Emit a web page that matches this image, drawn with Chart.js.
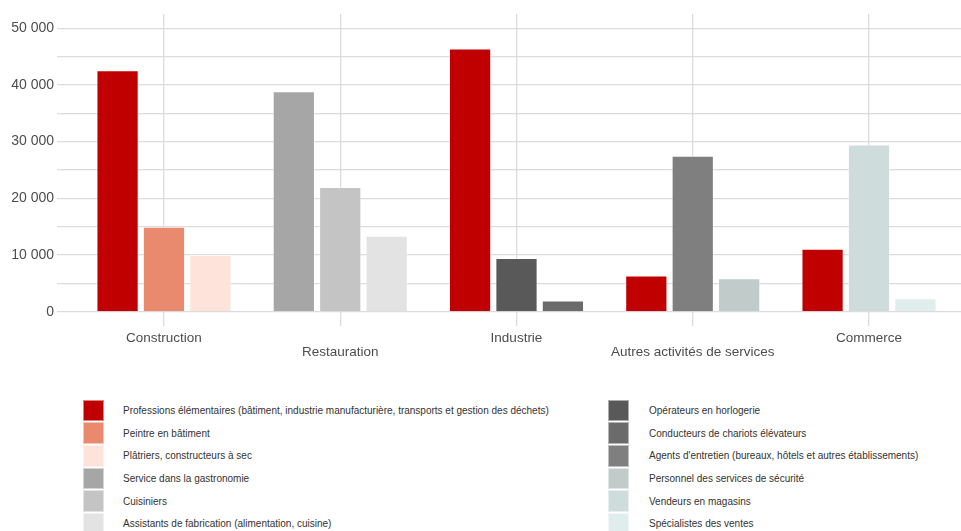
<!DOCTYPE html>
<html lang="fr">
<head>
<meta charset="utf-8">
<title>Professions par secteur</title>
<script src="https://cdn.jsdelivr.net/npm/chart.js@4/dist/chart.umd.min.js"></script>
<style>
  html, body { margin: 0; padding: 0; background: #fff; overflow: hidden; }
  body { width: 961px; height: 531px; position: relative; font-family: "Liberation Sans", Arial, sans-serif; }
  .chart-wrap { position: absolute; left: 0; top: 0; width: 961px; height: 370px; }
  .legend { position: absolute; top: 399px; left: 0; width: 961px; }
  .legend-col { position: absolute; top: 0; }
  .legend-item { display: flex; align-items: center; height: 22.7px; }
  .legend-box { width: 21px; height: 21.7px; box-sizing: border-box; border: 1px solid rgba(255,255,255,0.5); flex: none; }
  .legend-text { font-size: 10px; color: #333; white-space: nowrap; }
</style>
</head>
<body>
<div class="chart-wrap"><canvas id="chart"></canvas></div>
<div class="legend" id="legend"></div>
<script>
// Secteurs (axe x) — positions 1..5 sur une échelle linéaire
const sectors = ['Construction', 'Restauration', 'Industrie', 'Autres activités de services', 'Commerce'];
const sectorPos = [1, 2, 3, 4, 5];

// Professions (une série chacune), dans l'ordre de la légende
const professions = [
  'Professions élémentaires (bâtiment, industrie manufacturière, transports et gestion des déchets)',
  'Peintre en bâtiment',
  'Plâtriers, constructeurs à sec',
  'Service dans la gastronomie',
  'Cuisiniers',
  'Assistants de fabrication (alimentation, cuisine)',
  'Opérateurs en horlogerie',
  'Conducteurs de chariots élévateurs',
  "Agents d'entretien (bureaux, hôtels et autres établissements)",
  'Personnel des services de sécurité',
  'Vendeurs en magasins',
  'Spécialistes des ventes'
];
const colors = [
  '#c00000', '#e9896d', '#fde3da',
  '#a6a6a6', '#c4c4c4', '#e3e3e3',
  '#595959', '#6b6b6b', '#7f7f7f',
  '#c0cbca', '#cfdcdc', '#e0eded'
];

// Effectifs par secteur (null = profession absente du secteur)
const elementaires   = [42600, null, 46400, 6400, 11100];
const peintres       = [15000, null, null, null, null];
const platriers      = [10000, null, null, null, null];
const serviceGastro  = [null, 38900, null, null, null];
const cuisiniers     = [null, 22000, null, null, null];
const assistants     = [null, 13400, null, null, null];
const horlogerie     = [null, null, 9500, null, null];
const chariots       = [null, null, 2000, null, null];
const entretien      = [null, null, null, 27500, null];
const securite       = [null, null, null, 5900, null];
const vendeurs       = [null, null, null, null, 29500];
const specialistes   = [null, null, null, null, 2400];

const seriesValues = [
  elementaires, peintres, platriers,
  serviceGastro, cuisiniers, assistants,
  horlogerie, chariots, entretien,
  securite, vendeurs, specialistes
];

const yTicks = [0, 5000, 10000, 15000, 20000, 25000, 30000, 35000, 40000, 45000, 50000];

const fmt = v => String(v).replace(/\B(?=(\d{3})+(?!\d))/g, ' ');

const datasets = professions.map((name, i) => ({
  label: name,
  data: seriesValues[i],
  backgroundColor: colors[i],
  borderColor: 'rgba(255,255,255,0.45)',
  borderWidth: 1,
  categoryPercentage: 0.79,
  barPercentage: 0.91,
  skipNull: true
}));

const ctx = document.getElementById('chart').getContext('2d');
new Chart(ctx, {
  type: 'bar',
  data: { labels: sectorPos, datasets },
  options: {
    responsive: true,
    maintainAspectRatio: false,
    animation: false,
    layout: { padding: { top: 14, left: 0, right: 0, bottom: 0 } },
    plugins: {
      legend: { display: false },
      tooltip: { enabled: false }
    },
    scales: {
      x: {
        type: 'linear',
        min: 0.393,
        max: 5.522,
        offset: false,
        border: { display: false },
        grid: { color: '#dcdcdc', lineWidth: 1.3, drawTicks: false, offset: false },
        afterBuildTicks: axis => { axis.ticks = sectorPos.map(v => ({ value: v })); },
        afterFit: axis => { axis.height = 44; },
        ticks: {
          autoSkip: false,
          maxRotation: 0,
          padding: 5,
          color: '#4d4d4d',
          font: { family: '"Liberation Sans", Arial, sans-serif', size: 13.5, lineHeight: '14px' },
          callback: (v) => {
            const i = sectorPos.indexOf(v);
            if (i < 0) return '';
            return i % 2 === 1 ? ['', sectors[i]] : sectors[i];
          }
        }
      },
      y: {
        min: -2500,
        max: 52500,
        border: { display: false },
        grid: { color: '#dcdcdc', lineWidth: 1.3, drawTicks: false },
        afterBuildTicks: axis => { axis.ticks = yTicks.map(v => ({ value: v })); },
        afterFit: axis => { axis.width = 57; },
        ticks: {
          padding: 3,
          color: '#4d4d4d',
          font: { family: '"Liberation Sans", Arial, sans-serif', size: 14 },
          callback: v => (v % 10000 === 0 ? fmt(v) : '')
        }
      }
    }
  }
});

// Légende en deux colonnes de six entrées
const legend = document.getElementById('legend');
[[0, 83], [6, 608]].forEach(([start, left]) => {
  const col = document.createElement('div');
  col.className = 'legend-col';
  col.style.left = left + 'px';
  for (let i = start; i < start + 6; i++) {
    const item = document.createElement('div');
    item.className = 'legend-item';
    const box = document.createElement('span');
    box.className = 'legend-box';
    box.style.background = colors[i];
    const txt = document.createElement('span');
    txt.className = 'legend-text';
    txt.style.marginLeft = (i < 6 ? 19 : 20) + 'px';
    txt.textContent = professions[i];
    item.appendChild(box);
    item.appendChild(txt);
    col.appendChild(item);
  }
  legend.appendChild(col);
});
</script>
</body>
</html>
